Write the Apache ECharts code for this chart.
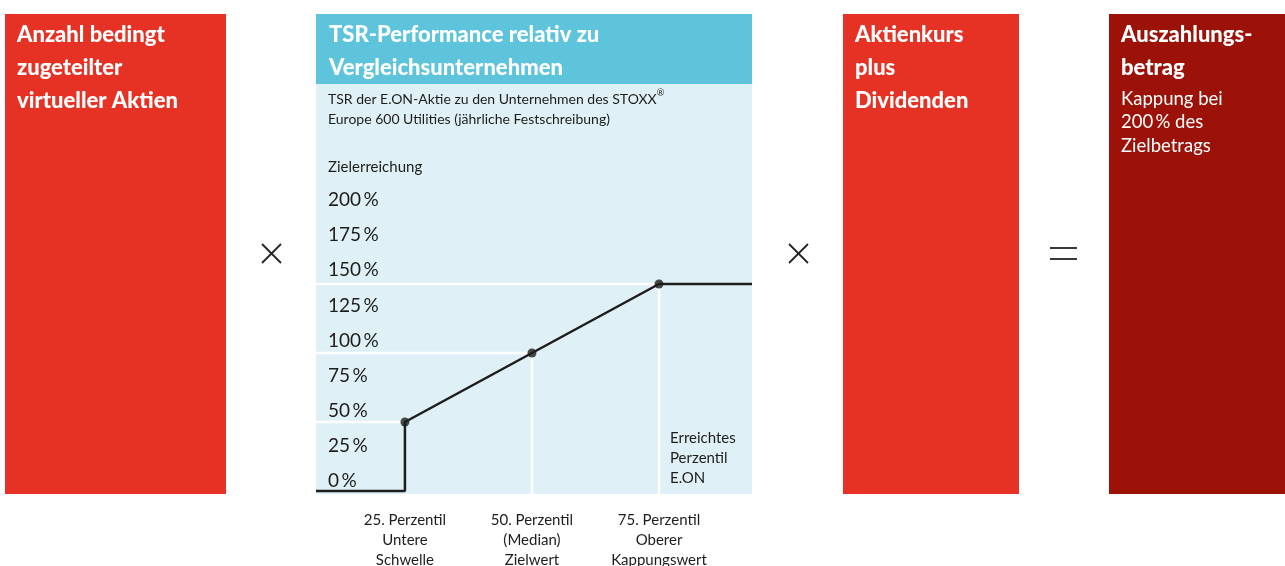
<!DOCTYPE html>
<html>
<head>
<meta charset="utf-8">
<script src="https://cdn.jsdelivr.net/npm/echarts@6/dist/echarts.min.js"></script>
<style>
  html, body { margin: 0; padding: 0; background: #fff; }
  #chart { width: 1285px; height: 566px; }
</style>
</head>
<body>
<div id="chart"></div>
<script>
// Perzentile der E.ON-Aktie und zugehörige Zielerreichung (%)
const percentiles = [25, 50, 75];
const payout = [50, 100, 150];
// sichtbarer Ausschnitt der x-Achse (Perzentil)
const xMin = 7.5;
const xMax = 93.3;
// Achsenbeschriftungen
const yTicks = [0, 25, 50, 75, 100, 125, 150, 175, 200];
const xLabels = [
  '25. Perzentil\nUntere\nSchwelle',
  '50. Perzentil\n(Median)\nZielwert',
  '75. Perzentil\nOberer\nKappungswert'
];

const RED = '#e53225';
const DARK_RED = '#9c1108';
const BLUE = '#5dc4dc';
const LIGHT = '#dff0f7';
const INK = '#1d1d1b';
const FONT = 'Lato, "Noto Sans", sans-serif';

// Kurve: unterhalb 25. Perzentil 0 %, danach linear bis Kappung
const last = payout.length - 1;
const curve = [[xMin, 0], [percentiles[0], 0]]
  .concat(percentiles.map((p, i) => [p, payout[i]]))
  .concat([[xMax, payout[last]]]);

// weiße Hilfslinien
const guideSeries = [];
percentiles.forEach((p, i) => {
  guideSeries.push({
    type: 'line', silent: true, symbol: 'none', z: 1, clip: false,
    lineStyle: { color: '#fff', width: 2.5 },
    data: [[xMin, payout[i]], [p, payout[i]]]
  });
  if (i > 0) {
    guideSeries.push({
      type: 'line', silent: true, symbol: 'none', z: 1, clip: false,
      lineStyle: { color: '#fff', width: 2.5 },
      data: [[p, payout[i]], [p, -2.2]]
    });
  }
});

function box(x, w, color) {
  return { type: 'rect', z: 0, shape: { x: x, y: 14, width: w, height: 480 }, style: { fill: color } };
}
function txt(x, y, text, size, weight, lh, color) {
  return {
    type: 'text', z: 10,
    style: {
      x: x, y: y, text: text, fill: color || '#fff',
      fontFamily: FONT, fontSize: size, fontWeight: weight,
      lineHeight: lh, verticalAlign: 'top'
    }
  };
}
function stroke(x1, y1, x2, y2) {
  return { type: 'line', z: 10, shape: { x1, y1, x2, y2 }, style: { stroke: '#222', lineWidth: 1.8 } };
}

const chart = echarts.init(document.getElementById('chart'));
chart.setOption({
  animation: false,
  grid: [
    // Diagramm
    { left: 316, right: 533, top: 215, bottom: 75, outerBoundsMode: 'none' },
    // Skala der Zielerreichung (Beschriftung etwas gespreizt wie im Original)
    { left: 316, right: 533, top: 200, bottom: 85, outerBoundsMode: 'none' }
  ],
  xAxis: [{
    type: 'value', min: xMin, max: xMax,
    axisLine: { show: false }, axisTick: { show: false }, splitLine: { show: false },
    axisLabel: {
      customValues: percentiles,
      formatter: v => xLabels[percentiles.indexOf(v)],
      color: INK, fontFamily: FONT, fontSize: 15, lineHeight: 20, margin: 19, align: 'center'
    }
  }, {
    gridIndex: 1, type: 'value', min: 0, max: 1, show: false
  }],
  yAxis: [{
    type: 'value', min: 0, max: 200, interval: 25, show: false
  }, {
    gridIndex: 1, type: 'value', min: 0, max: 200, interval: 25,
    axisLine: { show: false }, axisTick: { show: false }, splitLine: { show: false },
    axisLabel: {
      customValues: yTicks,
      inside: true, margin: 12, align: 'left', verticalAlign: 'middle',
      formatter: v => v + '\u2009%',
      color: INK, fontFamily: FONT, fontSize: 19
    }
  }],
  graphic: [
    box(5, 221, RED),
    { type: 'rect', z: 0, shape: { x: 316, y: 14, width: 436, height: 480 }, style: { fill: LIGHT } },
    { type: 'rect', z: 0, shape: { x: 316, y: 14, width: 436, height: 70 }, style: { fill: BLUE } },
    box(843, 176, RED),
    box(1109, 176, DARK_RED),
    txt(17, 18, 'Anzahl bedingt\nzugeteilter\nvirtueller Aktien', 22, 900, 33),
    txt(329, 18, 'TSR-Performance relativ zu\nVergleichsunternehmen', 22, 900, 33),
    txt(855, 18, 'Aktienkurs\nplus\nDividenden', 22, 900, 33),
    txt(1121, 18, 'Auszahlungs-\nbetrag', 22, 900, 33),
    txt(1121, 87, 'Kappung bei\n200\u2009% des\nZielbetrags', 18.5, 'normal', 23.5),
    {
      type: 'text', z: 10,
      style: {
        x: 328, y: 89, fill: INK, fontFamily: FONT, fontSize: 14, lineHeight: 20, verticalAlign: 'top',
        text: 'TSR der E.ON-Aktie zu den Unternehmen des STOXX{s|®}\nEurope 600 Utilities (jährliche Festschreibung)',
        rich: { s: { fontSize: 9, verticalAlign: 'top', fill: INK, fontFamily: FONT, padding: [0, 0, 8, 0] } }
      }
    },
    txt(328, 157, 'Zielerreichung', 15, 'normal', 20, INK),
    txt(670, 428, 'Erreichtes\nPerzentil\nE.ON', 15, 'normal', 20, INK),
    stroke(262, 244, 281, 263), stroke(262, 263, 281, 244),
    stroke(789, 244, 808, 263), stroke(789, 263, 808, 244),
    stroke(1050, 248, 1077, 248), stroke(1050, 259, 1077, 259)
  ],
  series: guideSeries.concat([
    {
      type: 'line', z: 3, clip: false,
      data: curve,
      lineStyle: { color: INK, width: 2.5 },
      symbol: 'none'
    },
    {
      type: 'scatter', z: 4,
      data: percentiles.map((p, i) => [p, payout[i]]),
      symbolSize: 9,
      itemStyle: { color: INK }
    }
  ])
});
</script>
</body>
</html>
